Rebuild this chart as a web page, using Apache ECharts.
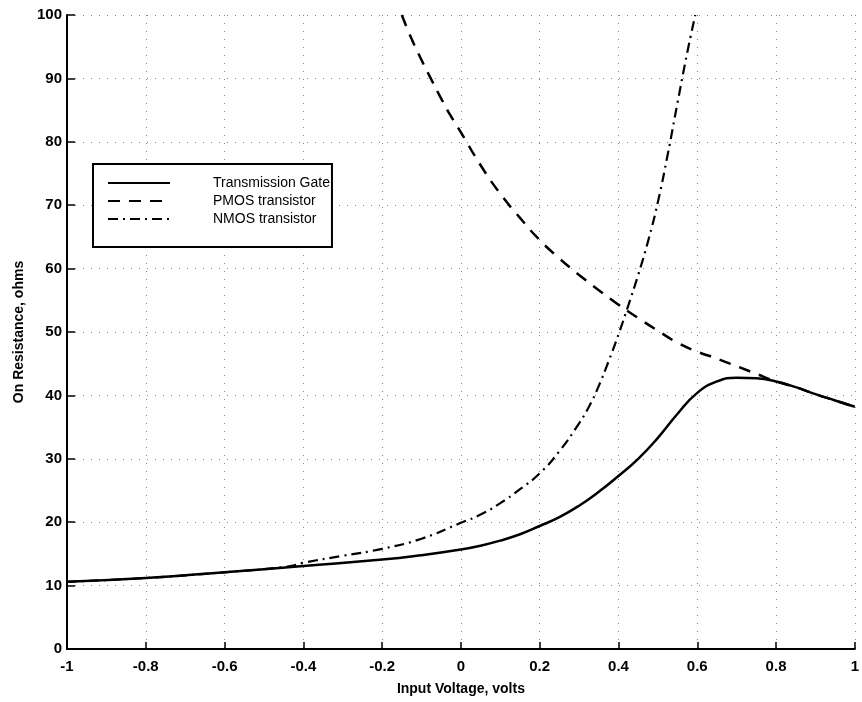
<!DOCTYPE html>
<html>
<head>
<meta charset="utf-8">
<script src="https://cdn.jsdelivr.net/npm/echarts@6/dist/echarts.min.js"></script>
<style>html,body{margin:0;padding:0;background:#fff}#c{width:862px;height:702px}</style>
</head>
<body>
<div id="c"></div>
<script>
const seriesNames = ['Transmission Gate', 'PMOS transistor', 'NMOS transistor'];

const tgX = [-1, -0.8, -0.6, -0.4, -0.2, -0.1, 0, 0.05, 0.1, 0.15, 0.2, 0.25, 0.3, 0.35, 0.4, 0.45, 0.5, 0.55, 0.6, 0.65, 0.7, 0.75, 0.8, 0.85, 0.9, 0.95, 1];
const tgY = [10.6, 11.2, 12.1, 13.1, 14.1, 14.8, 15.7, 16.3, 17.1, 18.1, 19.4, 20.8, 22.6, 24.8, 27.3, 30.0, 33.3, 37.1, 40.4, 42.2, 42.8, 42.7, 42.2, 41.3, 40.2, 39.2, 38.2];

const pmosX = [-0.15, -0.125, -0.1, -0.075, -0.05, -0.025, 0, 0.05, 0.1, 0.15, 0.2, 0.25, 0.3, 0.35, 0.4, 0.45, 0.5, 0.55, 0.6, 0.65, 0.7, 0.75, 0.8, 0.85, 0.9, 0.95, 1];
const pmosY = [100, 96.2, 92.9, 89.8, 86.8, 84.0, 81.5, 76.3, 71.8, 68.0, 64.5, 61.6, 59.0, 56.6, 54.3, 52.2, 50.2, 48.3, 46.9, 45.8, 44.6, 43.4, 42.2, 41.3, 40.2, 39.2, 38.2];

const nmosX = [-1, -0.8, -0.6, -0.44, -0.4, -0.3, -0.2, -0.1, 0, 0.05, 0.1, 0.15, 0.2, 0.25, 0.3, 0.325, 0.35, 0.375, 0.4, 0.425, 0.45, 0.475, 0.5, 0.525, 0.55, 0.575, 0.595];
const nmosY = [10.6, 11.2, 12.1, 13.0, 13.6, 14.7, 15.8, 17.4, 19.9, 21.2, 23.0, 25.2, 27.7, 31.2, 35.6, 38.2, 41.5, 45.4, 49.6, 54.2, 59.0, 64.3, 70.5, 78.0, 86.2, 94.2, 100];

const xTicks = [-1, -0.8, -0.6, -0.4, -0.2, 0, 0.2, 0.4, 0.6, 0.8, 1];
const yTicks = [0, 10, 20, 30, 40, 50, 60, 70, 80, 90, 100];

const zip = (xs, ys) => xs.map((x, i) => [x, ys[i]]);
const font = 'Liberation Sans, Arial, Helvetica, sans-serif';

const chart = echarts.init(document.getElementById('c'), null, {renderer: 'canvas'});
chart.setOption({
  animation: false,
  backgroundColor: '#fff',
  grid: {left: 67, right: 1, top: 15, bottom: 53, containLabel: false},
  legend: {
    orient: 'vertical',
    left: 93, top: 164,
    backgroundColor: '#fff',
    borderColor: '#000', borderWidth: 2, borderRadius: 0,
    padding: [12, 2, 21, 14],
    itemWidth: 62, itemHeight: 14, itemGap: 4,
    data: seriesNames,
    itemStyle: {opacity: 0},
    textStyle: {fontFamily: font, fontSize: 14, color: '#000', padding: [0, 0, 0, 38]}
  },
  xAxis: {
    type: 'value', min: -1, max: 1, interval: 0.2,
    name: 'Input Voltage, volts', nameLocation: 'middle', nameGap: 33,
    nameTextStyle: {fontFamily: font, fontSize: 14, fontWeight: 'bold', color: '#000'},
    axisLine: {show: true, onZero: false, lineStyle: {color: '#000', width: 2}},
    axisTick: {show: true, inside: true, length: 7, lineStyle: {color: '#000', width: 1.5}},
    axisLabel: {
      margin: 10, color: '#000', fontFamily: font, fontSize: 15, fontWeight: 'bold',
      showMinLabel: true, showMaxLabel: true,
      formatter: v => { const r = Math.round(v * 10) / 10; return r === 0 ? '0' : String(r); }
    },
    splitLine: {show: true, lineStyle: {color: '#888', width: 1, type: [1, 7]}}
  },
  yAxis: {
    type: 'value', min: 0, max: 100, interval: 10,
    name: 'On Resistance, ohms', nameLocation: 'middle', nameGap: 40, nameRotate: 90,
    nameTextStyle: {fontFamily: font, fontSize: 14, fontWeight: 'bold', color: '#000'},
    axisLine: {show: true, onZero: false, lineStyle: {color: '#000', width: 2}},
    axisTick: {show: true, inside: true, length: 8, lineStyle: {color: '#000', width: 1.5}},
    axisLabel: {margin: 5, color: '#000', fontFamily: font, fontSize: 15, fontWeight: 'bold'},
    splitLine: {show: true, lineStyle: {color: '#888', width: 1, type: [1, 7]}}
  },
  series: [
    {
      name: seriesNames[0], type: 'line', data: zip(tgX, tgY),
      showSymbol: false, symbol: 'none', smooth: 0.5,
      lineStyle: {color: '#000', width: 2.5, type: 'solid'}, itemStyle: {color: '#000'}, z: 5
    },
    {
      name: seriesNames[1], type: 'line', data: zip(pmosX, pmosY),
      showSymbol: false, symbol: 'none', smooth: 0.5,
      lineStyle: {color: '#000', width: 2.5, type: [12, 9]}, itemStyle: {color: '#000'}, z: 4
    },
    {
      name: seriesNames[2], type: 'line', data: zip(nmosX, nmosY),
      showSymbol: false, symbol: 'none', smooth: 0.5,
      lineStyle: {color: '#000', width: 2.2, type: [10, 5, 2, 5]}, itemStyle: {color: '#000'}, z: 3
    }
  ]
});
</script>
</body>
</html>
